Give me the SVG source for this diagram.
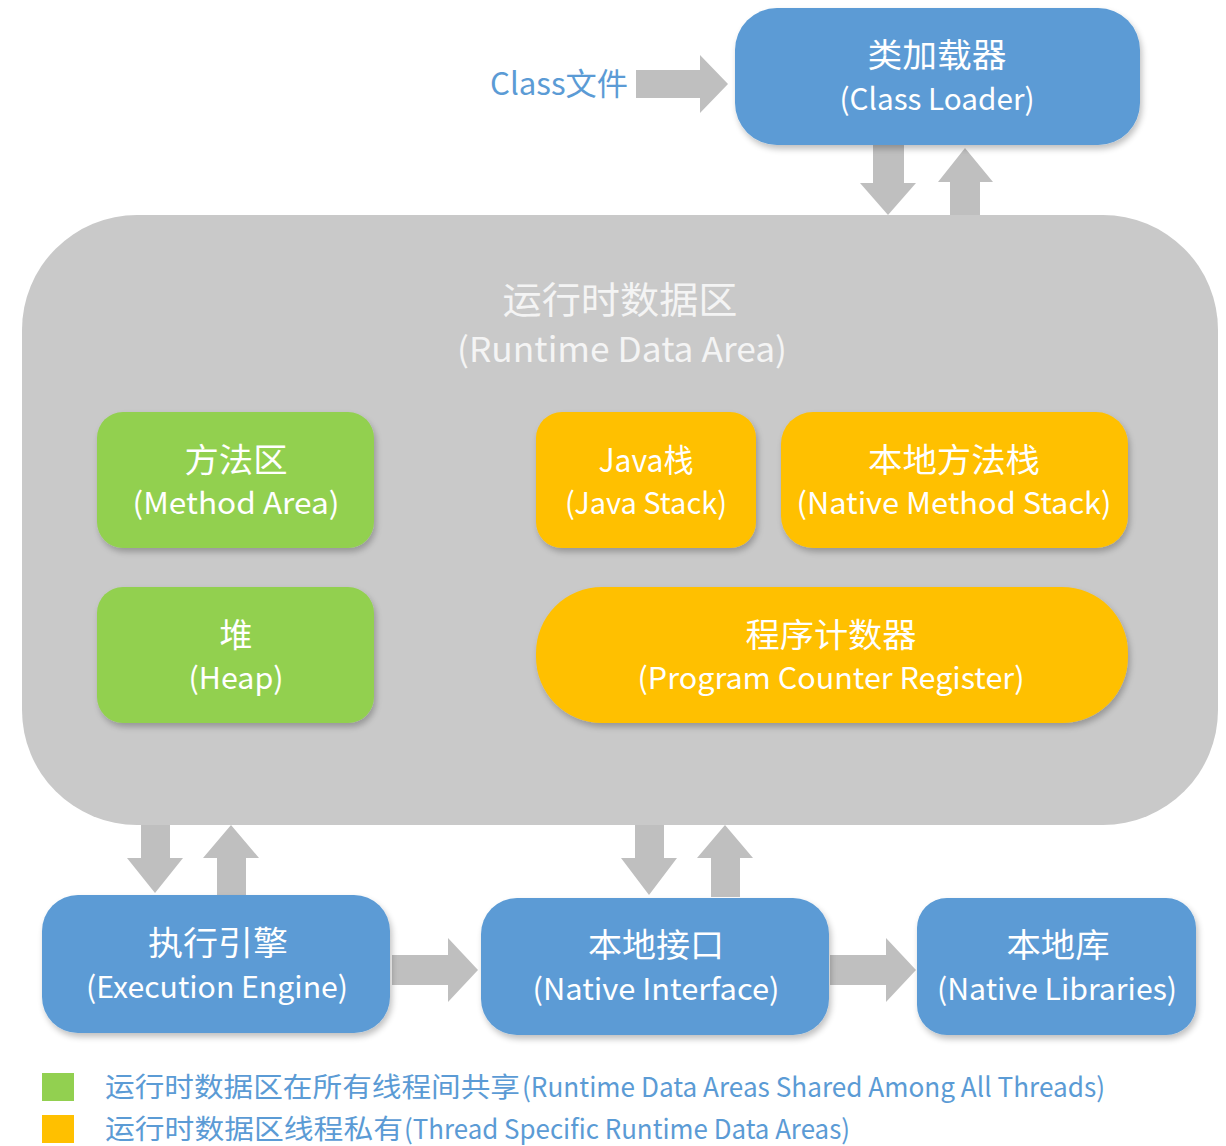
<svg xmlns="http://www.w3.org/2000/svg" width="1226" height="1146" viewBox="0 0 1226 1146">
<defs>
<filter id="sh" x="-10%" y="-10%" width="120%" height="130%">
<feGaussianBlur in="SourceAlpha" stdDeviation="3"/>
<feOffset dx="2" dy="4" result="b"/>
<feComponentTransfer><feFuncA type="linear" slope="0.25"/></feComponentTransfer>
<feMerge><feMergeNode/><feMergeNode in="SourceGraphic"/></feMerge>
</filter>
</defs>
<style>
.t{font-family:"Noto Sans CJK SC","Noto Sans",sans-serif;text-anchor:middle;fill:#FFFFFF;}
.g{font-family:"Noto Sans CJK SC","Noto Sans",sans-serif;text-anchor:middle;fill:#F4F4F4;}
.blue{fill:#5B9BD5;filter:url(#sh);}
.green{fill:#92D050;filter:url(#sh);}
.orange{fill:#FFC000;filter:url(#sh);}
.arr{fill:#BFBFBF;}
.lg{font-family:"Noto Sans CJK SC","Noto Sans",sans-serif;fill:#5B9BD5;font-size:27px;}
</style>
<rect width="1226" height="1146" fill="#FFFFFF"/>

<g id="connectors">
<polygon class="arr" points="636,70 700,70 700,55 728,84 700,113 700,98 636,98"/>
<polygon class="arr" points="873,145 904,145 904,183 916,183 888,215 860,183 873,183"/>
<polygon class="arr" points="950,215 980,215 980,182 993,182 965,148 938,182 950,182"/>
<polygon class="arr" points="141,825 170,825 170,858 183,858 155,893 127,858 141,858"/>
<polygon class="arr" points="217,895 246,895 246,858 259,858 231,825 203,858 217,858"/>
<polygon class="arr" points="635,825 664,825 664,858 677,858 649,895 621,858 635,858"/>
<polygon class="arr" points="711,897 740,897 740,858 753,858 725,825 697,858 711,858"/>
<polygon class="arr" points="392,955 448,955 448,938 478,970 448,1002 448,985 392,985"/>
<polygon class="arr" points="830,955 886,955 886,938 916,970 886,1002 886,985 830,985"/>
</g>

<g id="class-file">
<text x="559" y="95" font-family="Noto Sans CJK SC,Noto Sans,sans-serif" font-size="31" fill="#5B9BD5" text-anchor="middle" textLength="138" lengthAdjust="spacingAndGlyphs">Class文件</text>
</g>

<g id="class-loader">
<rect class="blue" x="735" y="8" width="405" height="137" rx="42"/>
<text class="t" x="937" y="67" font-size="33" textLength="139" lengthAdjust="spacingAndGlyphs">类加载器</text>
<text class="t" x="937" y="110" font-size="30" textLength="195" lengthAdjust="spacingAndGlyphs">(Class Loader)</text>
</g>

<g id="runtime-data-area">
<rect x="22" y="215" width="1196" height="610" rx="115" fill="#C9C9C9"/>
<text class="g" x="620" y="314" font-size="37" textLength="235" lengthAdjust="spacingAndGlyphs">运行时数据区</text>
<text class="g" x="622" y="362" font-size="34" textLength="330" lengthAdjust="spacingAndGlyphs">(Runtime Data Area)</text>
</g>

<g id="method-area">
<rect class="green" x="97" y="412" width="277" height="136" rx="26"/>
<text class="t" x="236" y="472" font-size="33" textLength="103" lengthAdjust="spacingAndGlyphs">方法区</text>
<text class="t" x="236" y="514" font-size="30" textLength="207" lengthAdjust="spacingAndGlyphs">(Method Area)</text>
</g>

<g id="heap">
<rect class="green" x="97" y="587" width="277" height="136" rx="26"/>
<text class="t" x="236" y="647" font-size="33">堆</text>
<text class="t" x="236" y="689" font-size="30" textLength="95" lengthAdjust="spacingAndGlyphs">(Heap)</text>
</g>

<g id="java-stack">
<rect class="orange" x="536" y="412" width="220" height="136" rx="26"/>
<text class="t" x="646" y="472" font-size="32" textLength="95" lengthAdjust="spacingAndGlyphs">Java栈</text>
<text class="t" x="646" y="514" font-size="30" textLength="162" lengthAdjust="spacingAndGlyphs">(Java Stack)</text>
</g>

<g id="native-method-stack">
<rect class="orange" x="781" y="412" width="347" height="136" rx="32"/>
<text class="t" x="954" y="472" font-size="33" textLength="172" lengthAdjust="spacingAndGlyphs">本地方法栈</text>
<text class="t" x="954" y="514" font-size="30" textLength="315" lengthAdjust="spacingAndGlyphs">(Native Method Stack)</text>
</g>

<g id="program-counter-register">
<rect class="orange" x="536" y="587" width="592" height="136" rx="66"/>
<text class="t" x="831" y="647" font-size="33" textLength="171" lengthAdjust="spacingAndGlyphs">程序计数器</text>
<text class="t" x="831" y="689" font-size="30" textLength="387" lengthAdjust="spacingAndGlyphs">(Program Counter Register)</text>
</g>

<g id="execution-engine">
<rect class="blue" x="42" y="895" width="348" height="138" rx="36"/>
<text class="t" x="218" y="955" font-size="33" textLength="140" lengthAdjust="spacingAndGlyphs">执行引擎</text>
<text class="t" x="217" y="998" font-size="30" textLength="262" lengthAdjust="spacingAndGlyphs">(Execution Engine)</text>
</g>

<g id="native-interface">
<rect class="blue" x="481" y="898" width="348" height="137" rx="36"/>
<text class="t" x="656" y="957" font-size="33" textLength="136" lengthAdjust="spacingAndGlyphs">本地接口</text>
<text class="t" x="656" y="1000" font-size="30" textLength="247" lengthAdjust="spacingAndGlyphs">(Native Interface)</text>
</g>

<g id="native-libraries">
<rect class="blue" x="917" y="898" width="279" height="137" rx="30"/>
<text class="t" x="1058" y="957" font-size="33" textLength="103" lengthAdjust="spacingAndGlyphs">本地库</text>
<text class="t" x="1057" y="1000" font-size="30" textLength="240" lengthAdjust="spacingAndGlyphs">(Native Libraries)</text>
</g>

<g id="legend">
<rect x="42" y="1073" width="32" height="28" fill="#92D050"/>
<rect x="42" y="1115" width="32" height="28" fill="#FFC000"/>
<text class="lg" y="1097"><tspan x="105" textLength="415" lengthAdjust="spacingAndGlyphs">运行时数据区在所有线程间共享</tspan><tspan x="522" textLength="583" lengthAdjust="spacingAndGlyphs">(Runtime Data Areas Shared Among All Threads)</tspan></text>
<text class="lg" y="1139"><tspan x="105" textLength="298" lengthAdjust="spacingAndGlyphs">运行时数据区线程私有</tspan><tspan x="404" textLength="446" lengthAdjust="spacingAndGlyphs">(Thread Specific Runtime Data Areas)</tspan></text>
</g>
</svg>
